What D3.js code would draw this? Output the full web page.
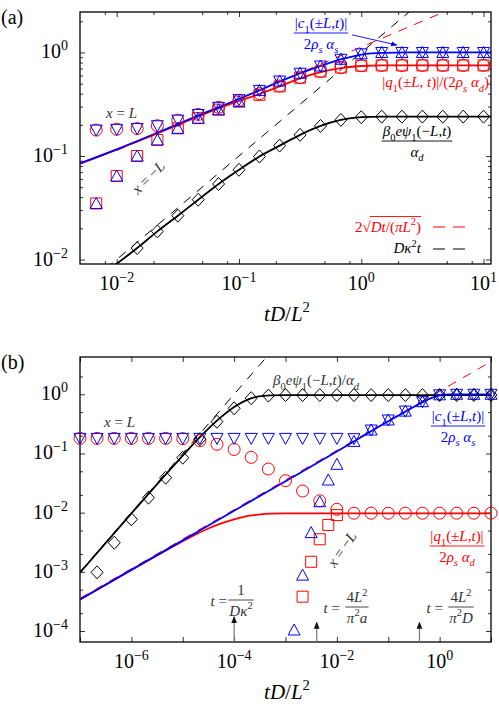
<!DOCTYPE html>
<html>
<head>
<meta charset="utf-8">
<script src="https://cdn.jsdelivr.net/npm/d3@7"></script>
<style>
  body { margin: 0; background: #fff; }
  text { font-family: "Liberation Serif", "Times New Roman", serif; }
</style>
</head>
<body>
<svg id="fig" width="499" height="709" font-family="Liberation Serif, Times New Roman, serif"></svg>
<script>
// ---------- panel (a) ----------
var tMarkA = [0.0068, 0.01, 0.0147, 0.0215, 0.0316, 0.0464, 0.0681, 0.1, 0.147, 0.215,
              0.316, 0.464, 0.681, 1, 1.47, 2.15, 3.16, 4.64, 6.81, 10];
// x = L
var circA = [0.178, 0.181, 0.184, 0.196, 0.222, 0.252, 0.295, 0.345, 0.40, 0.475,
             0.57, 0.655, 0.715, 0.745, 0.75, 0.75, 0.75, 0.75, 0.75, 0.75];
var downA = [0.178, 0.181, 0.184, 0.196, 0.222, 0.252, 0.295, 0.35, 0.43, 0.53,
             0.63, 0.74, 0.86, 0.97, 1, 1, 1, 1, 1, 1];
// x = -L
var upA   = [0.0348, 0.064, 0.10, 0.143, 0.185, 0.232, 0.28, 0.335, 0.43, 0.53,
             0.63, 0.74, 0.86, 0.97, 1, 1, 1, 1, 1, 1];
var sqA   = [0.0348, 0.064, 0.10, 0.143, 0.185, 0.232, 0.28, 0.335, 0.39, 0.47,
             0.57, 0.655, 0.715, 0.745, 0.75, 0.75, 0.75, 0.75, 0.75, 0.75];
var tDiamA = [0.0147, 0.0215, 0.0316, 0.0464, 0.0681, 0.1, 0.147, 0.215, 0.316, 0.464,
              0.681, 1, 1.47, 2.15, 3.16, 4.64, 6.81, 10];
var diamA  = [0.0129, 0.0187, 0.0265, 0.0378, 0.0536, 0.0736, 0.0989, 0.126, 0.160, 0.195,
              0.223, 0.237, 0.240, 0.240, 0.240, 0.240, 0.240, 0.240];

var tBlueA = [0.005, 0.01, 0.02, 0.05, 0.1, 0.15, 0.2, 0.3, 0.45, 0.7, 1, 1.5, 2.5, 12];
var blueA  = [0.085, 0.116, 0.162, 0.255, 0.355, 0.435, 0.505, 0.615, 0.73, 0.865, 0.955, 0.993, 1, 1];
var redA   = [0.084, 0.115, 0.16, 0.25, 0.34, 0.40, 0.455, 0.55, 0.64, 0.71, 0.74, 0.75, 0.75, 0.75];
var tBlackA = [0.0095, 0.0147, 0.0215, 0.0316, 0.0464, 0.0681, 0.1, 0.147, 0.215, 0.316,
               0.464, 0.681, 1, 1.47, 2.5, 12];
var blackA  = [0.0087, 0.0129, 0.0187, 0.0265, 0.0378, 0.0536, 0.0736, 0.0989, 0.126, 0.16,
               0.195, 0.223, 0.237, 0.24, 0.24, 0.24];
// asymptotes
var tSqrtA = [0.01, 12], sqrtA = [0.113, 3.91];
var tLinA  = [0.005, 12], linA  = [0.005, 12];
// arrow from the c1 label to its markers
var tArrowA = [0.84, 1.95], arrowA = [1.48, 1.18];

// ---------- panel (b) ----------
var tMarkB = [1e-7, 2.15e-7, 4.64e-7, 1e-6, 2.15e-6, 4.64e-6, 1e-5, 2.15e-5, 4.64e-5, 1e-4,
              2.15e-4, 4.64e-4, 1e-3, 2.15e-3, 4.64e-3, 0.01, 0.0215, 0.0464, 0.1, 0.215,
              0.464, 1, 2.15, 4.64, 10];
var circB = [0.18, 0.18, 0.18, 0.18, 0.18, 0.18, 0.178, 0.165, 0.143, 0.117,
             0.086, 0.0546, 0.0347, 0.0232, 0.0159, 0.0114, 0.0098, 0.0098, 0.0098, 0.0098,
             0.0098, 0.0098, 0.0098, 0.0098, 0.0098];
var downB = [0.18, 0.18, 0.18, 0.18, 0.18, 0.18, 0.18, 0.18, 0.18, 0.18,
             0.18, 0.18, 0.18, 0.18, 0.18, 0.18, 0.178, 0.249, 0.368, 0.52,
             0.75, 0.98, 1, 1, 1];
var tUpB = [1.47e-3, 2.15e-3, 3.16e-3, 4.64e-3, 6.81e-3, 0.01, 0.0215, 0.0464, 0.1, 0.215,
            0.464, 1, 2.15, 4.64, 10];
var upB  = [1.04e-4, 8.8e-4, 4.6e-3, 0.0153, 0.0356, 0.0656, 0.16, 0.249, 0.368, 0.52,
            0.75, 0.98, 1, 1, 1];
var tSqB = [2.15e-3, 3.16e-3, 4.64e-3, 6.81e-3, 0.01];
var sqB  = [3.8e-4, 1.48e-3, 3.55e-3, 6.2e-3, 9.1e-3];
var tDiamB = [2.15e-7, 4.64e-7, 1e-6, 2.15e-6, 4.64e-6, 1e-5, 2.15e-5, 4.64e-5, 1e-4, 2.15e-4,
              4.64e-4, 1e-3, 2.15e-3, 4.64e-3, 0.01, 0.0215, 0.0464, 0.1, 0.215, 0.464,
              1, 2.15, 4.64, 10];
var diamB  = [9.8e-4, 3.1e-3, 7.7e-3, 0.0179, 0.0389, 0.0849, 0.174, 0.344, 0.58, 0.86,
              0.95, 0.97, 0.97, 0.97, 0.97, 0.97, 0.97, 0.97, 0.97, 0.97,
              0.97, 0.97, 0.97, 0.97];

var tBlueB = [1e-7, 1e-6, 1e-5, 1e-4, 1e-3, 0.01, 0.03, 0.1, 0.2, 0.3, 0.5, 0.7, 1, 1.5, 2.5, 10];
var blueB  = [3.4e-4, 1.08e-3, 3.4e-3, 0.0108, 0.034, 0.108, 0.19, 0.35, 0.49, 0.6, 0.76, 0.87, 0.96, 0.995, 1, 1];
var tRedB = [1e-7, 1e-6, 3e-6, 1e-5, 3e-5, 6e-5, 1e-4, 2e-4, 3e-4, 5e-4, 1e-3, 10];
var redB  = [3.4e-4, 1.08e-3, 1.85e-3, 3.3e-3, 5.3e-3, 6.7e-3, 7.7e-3, 8.9e-3, 9.3e-3, 9.6e-3, 9.7e-3, 9.7e-3];
var tBlackB = [1e-7, 1e-6, 1e-5, 2e-5, 5e-5, 1e-4, 2e-4, 3e-4, 5e-4, 1e-3, 10];
var blackB  = [9.7e-4, 9.7e-3, 0.092, 0.176, 0.38, 0.61, 0.84, 0.92, 0.96, 0.97, 0.97];
var tSqrtB = [1e-7, 10], sqrtB = [3.57e-4, 3.57];
var tLinB  = [1e-7, 1e-3], linB = [1e-3, 10];

// characteristic times marked with arrows
var tArrowB = [1e-4, 4.05e-3, 0.405];
var arrowTipB = [1.75e-4, 1.4e-4, 1.4e-4];

var SERIF = 'Liberation Serif, Times New Roman, serif';
var svg = d3.select('#fig');

// math text: parts = [[string, style]], style: i, sub, sup, isub
function mt(t, parts, fs) {
  var shift = 0;
  parts.forEach(function(p) {
    var st = p[1] || '';
    var s = t.append('tspan').text(p[0]);
    var want = st.indexOf('sub') >= 0 ? fs * 0.3 : (st.indexOf('sup') >= 0 ? -fs * 0.42 : 0);
    if (want !== shift) { s.attr('dy', want - shift); shift = want; }
    if (st.charAt(0) === 'i') s.attr('font-style', 'italic');
    if (want !== 0) s.attr('font-size', (fs * 0.7) + 'px');
  });
  return t;
}
function label(g, x, y, parts, fs, col, anchor) {
  var t = g.append('text').attr('x', x).attr('y', y).attr('font-family', SERIF)
    .attr('text-anchor', anchor || 'start').attr('fill', col || '#000')
    .attr('font-size', fs + 'px');
  return mt(t, parts, fs);
}
function frac(g, cx, yb, num, den, fs, col) {
  var a = label(g, cx, yb - 5, num, fs, col, 'middle');
  var b = label(g, cx, yb + fs + 0.5, den, fs, col, 'middle');
  var w = Math.max(a.node().getComputedTextLength(), b.node().getComputedTextLength());
  g.append('line').attr('x1', cx - w / 2 - 1).attr('x2', cx + w / 2 + 1)
    .attr('y1', yb).attr('y2', yb).attr('stroke', col).attr('stroke-width', 0.9);
}
function pow10(g, x, y, e, anchor) {
  var t = g.append('text').attr('x', x).attr('y', y).attr('text-anchor', anchor)
    .attr('font-family', SERIF).attr('font-size', '20px');
  t.append('tspan').text('10');
  t.append('tspan').attr('dy', -8).attr('font-size', '14px').text(e < 0 ? '\u2212' + (-e) : '' + e);
}

function panel(o) {
  var x = d3.scaleLog().domain(o.xd).range([80, 491]);
  var y = d3.scaleLog().domain(o.yd).range([o.bot, o.top]);
  var g = svg.append('g');
  var cid = 'clip' + o.name;
  svg.append('clipPath').attr('id', cid).append('rect')
    .attr('x', 80).attr('y', o.top).attr('width', 411).attr('height', o.bot - o.top);

  function ticks(ax, vals, len, tr) {
    var a = ax.tickValues(vals).tickSize(-len).tickSizeOuter(0).tickFormat('');
    var s = g.append('g').attr('transform', tr).call(a);
    s.select('.domain').remove();
    s.selectAll('line').attr('stroke', '#000').attr('stroke-width', 0.8);
  }
  [[o.xMaj, 5], [o.xMin, 3]].forEach(function(p) {
    ticks(d3.axisBottom(x), p[0], p[1], 'translate(0,' + o.bot + ')');
    ticks(d3.axisTop(x), p[0], p[1], 'translate(0,' + o.top + ')');
  });
  [[o.yMaj, 5], [o.yMin, 3]].forEach(function(p) {
    ticks(d3.axisLeft(y), p[0], p[1], 'translate(80,0)');
    ticks(d3.axisRight(y), p[0], p[1], 'translate(491,0)');
  });
  g.append('rect').attr('x', 80).attr('y', o.top).attr('width', 411).attr('height', o.bot - o.top)
    .attr('fill', 'none').attr('stroke', '#000').attr('stroke-width', 1.3);

  o.xLab.forEach(function(e) { pow10(g, x(Math.pow(10, e)), o.xLabY, e, 'middle'); });
  o.yLab.forEach(function(e) { pow10(g, 68, y(Math.pow(10, e)) + 6, e, 'end'); });
  label(g, 287, o.axY, [['tD', 'i'], ['/'], ['L', 'i'], ['2', 'sup']], 21, '#000', 'middle');
  label(g, 1, o.top + 12, [[o.tag]], 20, '#000');

  var lines = svg.append('g').attr('clip-path', 'url(#' + cid + ')');
  var marks = svg.append('g');
  return { x: x, y: y, g: g, lines: lines, marks: marks };
}

function curve(p, ts, vs, col, w, dash) {
  var ln = d3.line().x(function(d) { return p.x(d[0]); }).y(function(d) { return p.y(d[1]); })
    .curve(d3.curveMonotoneX);
  p.lines.append('path').attr('d', ln(d3.zip(ts, vs))).attr('fill', 'none')
    .attr('stroke', col).attr('stroke-width', w).attr('stroke-dasharray', dash || null);
}
var shapes = {
  circle: 'M6,0A6,6 0 1,1 -6,0A6,6 0 1,1 6,0Z',
  up: 'M0,-6L6,5L-6,5Z',
  down: 'M0,6L6,-5L-6,-5Z',
  square: 'M-5.5,-5.5H5.5V5.5H-5.5Z',
  diamond: 'M0,-6.5L6,0L0,6.5L-6,0Z'
};
function markers(p, ts, vs, shape, col) {
  p.marks.selectAll(null).data(d3.zip(ts, vs)).enter().append('path')
    .attr('d', shapes[shape])
    .attr('transform', function(d) { return 'translate(' + p.x(d[0]) + ',' + p.y(d[1]) + ')'; })
    .attr('fill', 'none').attr('stroke', col).attr('stroke-width', 1);
}

svg.append('defs').html(
  '<marker id="ahB" viewBox="0 0 10 10" refX="9" refY="5" markerWidth="7" markerHeight="7" orient="auto">' +
  '<path d="M0,1L10,5L0,9Z" fill="#00f"/></marker>' +
  '<marker id="ahK" viewBox="0 0 10 10" refX="9" refY="5" markerWidth="6" markerHeight="6" orient="auto">' +
  '<path d="M0,1L10,5L0,9Z" fill="#111"/></marker>');

// ---------- draw (a) ----------
var pa = panel({
  name: 'a', tag: '(a)', xd: [0.00501, 11.5], yd: [0.00905, 2.46], top: 12, bot: 264,
  xMaj: [0.01, 0.1, 1, 10], xMin: [0.008, 0.02, 0.05, 0.08, 0.2, 0.5, 0.8, 2, 5, 8],
  yMaj: [0.01, 0.1, 1],
  yMin: [0.02, 0.03, 0.04, 0.05, 0.06, 0.07, 0.08, 0.09, 0.2, 0.3, 0.4, 0.5, 0.6, 0.7, 0.8, 0.9, 2],
  xLab: [-2, -1, 0, 1], yLab: [-2, -1, 0], xLabY: 290, axY: 321
});
curve(pa, tLinA, linA, '#000', 1, '9,8');
curve(pa, tSqrtA, sqrtA, '#f00', 1, '9,8');
curve(pa, tBlackA, blackA, '#000', 1.8);
curve(pa, tBlueA, redA, '#f00', 1.8);
curve(pa, tBlueA, blueA, '#00f', 1.8);
markers(pa, tMarkA, circA, 'circle', '#f00');
markers(pa, tMarkA, sqA, 'square', '#f00');
markers(pa, tMarkA, downA, 'down', '#00f');
markers(pa, tMarkA, upA, 'up', '#00f');
markers(pa, tDiamA, diamA, 'diamond', '#000');

var ga = pa.g;
label(ga, 106, 118, [['x', 'i'], [' = '], ['L', 'i']], 15, '#333');
label(ga, 0, 0, [['x', 'i'], [' = \u2212'], ['L', 'i']], 15, '#333', 'middle')
  .attr('transform', 'translate(152,181) rotate(-45)');
frac(ga, 321, 33, [['|'], ['c', 'i'], ['1', 'sub'], ['(\u00b1'], ['L', 'i'], [','], ['t', 'i'], [')|']],
     [['2'], ['\u03c1', 'i'], ['s', 'isub'], [' '], ['\u03b1', 'i'], ['s', 'isub']], 15, '#00f');
ga.append('line').attr('x1', pa.x(tArrowA[0])).attr('y1', pa.y(arrowA[0]))
  .attr('x2', pa.x(tArrowA[1])).attr('y2', pa.y(arrowA[1]))
  .attr('stroke', '#00f').attr('stroke-width', 0.9).attr('marker-end', 'url(#ahB)');
label(ga, 489, 87, [['|'], ['q', 'i'], ['1', 'sub'], ['(\u00b1'], ['L', 'i'], [', '], ['t', 'i'], [')|/(2'],
      ['\u03c1', 'i'], ['s', 'isub'], [' '], ['\u03b1', 'i'], ['d', 'isub'], [')']], 15, '#f00', 'end');
frac(ga, 417, 141, [['\u03b2', 'i'], ['0', 'sub'], ['e\u03c8', 'i'], ['1', 'sub'], ['(\u2212'], ['L', 'i'], [','], ['t', 'i'], [')']],
     [['\u03b1', 'i'], ['d', 'isub']], 15, '#000');
// legend
var s1 = label(ga, 0, 231.5, [['2\u221a']], 15, '#f00', 'start');
var s2 = label(ga, 0, 231.5, [['Dt', 'i'], ['/('], ['\u03c0L', 'i'], ['2', 'sup'], [')']], 15, '#f00', 'start');
var w1 = s1.node().getComputedTextLength(), w2 = s2.node().getComputedTextLength();
var lx = 421 - w1 - w2;
s1.attr('x', lx); s2.attr('x', lx + w1);
ga.append('line').attr('x1', lx + w1 - 1).attr('x2', lx + w1 + w2).attr('y1', 216.5).attr('y2', 216.5)
  .attr('stroke', '#f00').attr('stroke-width', 0.9);
ga.append('line').attr('x1', 433).attr('x2', 465).attr('y1', 227).attr('y2', 227)
  .attr('stroke', '#f00').attr('stroke-width', 1).attr('stroke-dasharray', '12,8');
label(ga, 421, 253, [['D\u03ba', 'i'], ['2', 'sup'], ['t', 'i']], 15, '#000', 'end');
ga.append('line').attr('x1', 433).attr('x2', 465).attr('y1', 249).attr('y2', 249)
  .attr('stroke', '#000').attr('stroke-width', 1).attr('stroke-dasharray', '12,8');

// ---------- draw (b) ----------
var pb = panel({
  name: 'b', tag: '(b)', xd: [1e-7, 10], yd: [6.52e-5, 4.27], top: 357, bot: 642,
  xMaj: [1e-7, 1e-6, 1e-5, 1e-4, 1e-3, 1e-2, 1e-1, 1, 10], xMin: [],
  yMaj: [1e-4, 1e-3, 1e-2, 1e-1, 1],
  yMin: [2e-4, 5e-4, 2e-3, 5e-3, 2e-2, 5e-2, 0.2, 0.5, 2],
  xLab: [-6, -4, -2, 0], yLab: [-4, -3, -2, -1, 0], xLabY: 668, axY: 699
});
curve(pb, tLinB, linB, '#000', 1, '9,8');
curve(pb, tSqrtB, sqrtB, '#f00', 1, '9,8');
curve(pb, tBlackB, blackB, '#000', 1.8);
curve(pb, tRedB, redB, '#f00', 1.8);
curve(pb, tBlueB, blueB, '#00f', 1.8);
markers(pb, tMarkB, circB, 'circle', '#f00');
markers(pb, tSqB, sqB, 'square', '#f00');
markers(pb, tMarkB, downB, 'down', '#00f');
markers(pb, tUpB, upB, 'up', '#00f');
markers(pb, tDiamB, diamB, 'diamond', '#000');

var gb = pb.g;
label(gb, 104, 427, [['x', 'i'], [' = '], ['L', 'i']], 15, '#333');
label(gb, 0, 0, [['x', 'i'], [' = \u2212'], ['L', 'i']], 15, '#333', 'middle')
  .attr('transform', 'translate(346,552) rotate(-55)');
label(gb, 273, 385, [['\u03b2', 'i'], ['0', 'sub'], ['e\u03c8', 'i'], ['1', 'sub'], ['(\u2212'], ['L', 'i'], [','], ['t', 'i'],
      [')/'], ['\u03b1', 'i'], ['d', 'isub']], 15, '#333');
frac(gb, 458, 426, [['|'], ['c', 'i'], ['1', 'sub'], ['(\u00b1'], ['L', 'i'], [','], ['t', 'i'], [')|']],
     [['2'], ['\u03c1', 'i'], ['s', 'isub'], [' '], ['\u03b1', 'i'], ['s', 'isub']], 15, '#00f');
frac(gb, 457, 546, [['|'], ['q', 'i'], ['1', 'sub'], ['(\u00b1'], ['L', 'i'], [','], ['t', 'i'], [')|']],
     [['2'], ['\u03c1', 'i'], ['s', 'isub'], [' '], ['\u03b1', 'i'], ['d', 'isub']], 15, '#f00');

tArrowB.forEach(function(t, i) {
  gb.append('line').attr('x1', pb.x(t)).attr('x2', pb.x(t)).attr('y1', 642).attr('y2', pb.y(arrowTipB[i]))
    .attr('stroke', '#777').attr('stroke-width', 1.2).attr('marker-end', 'url(#ahK)');
});
label(gb, 227, 606, [['t', 'i'], [' =']], 15, '#333', 'end');
frac(gb, 241, 600, [['1']], [['D\u03ba', 'i'], ['2', 'sup']], 15, '#333');
label(gb, 340, 613, [['t', 'i'], [' =']], 15, '#333', 'end');
frac(gb, 357, 607, [['4'], ['L', 'i'], ['2', 'sup']], [['\u03c0', 'i'], ['2', 'sup'], ['a', 'i']], 15, '#333');
label(gb, 443, 613, [['t', 'i'], [' =']], 15, '#333', 'end');
frac(gb, 461, 607, [['4'], ['L', 'i'], ['2', 'sup']], [['\u03c0', 'i'], ['2', 'sup'], ['D', 'i']], 15, '#333');
</script>
</body>
</html>
